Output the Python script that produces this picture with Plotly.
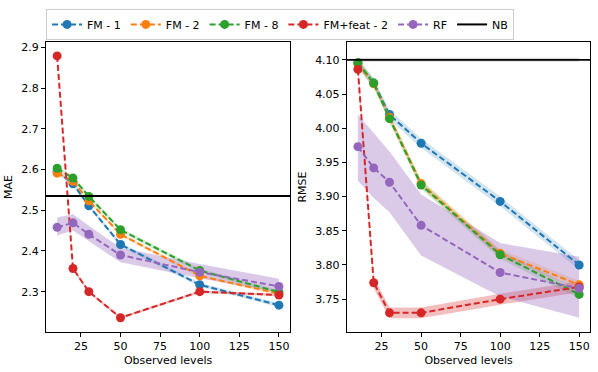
import plotly.graph_objects as go
from plotly.subplots import make_subplots

levels = [10, 20, 30, 50, 100, 150]
names = ["FM - 1", "FM - 2", "FM - 8", "FM+feat - 2", "RF"]
colors = ["#1f77b4", "#ff7f0e", "#2ca02c", "#d62728", "#9467bd"]
fills = ["rgba(31,119,180,0.2)", "rgba(255,127,14,0.2)", "rgba(44,160,44,0.2)",
         "rgba(214,39,40,0.3)", "rgba(148,103,189,0.35)"]

# MAE (left panel)
mae_fm1 = [2.595, 2.565, 2.511, 2.416, 2.317, 2.267]
mae_fm2 = [2.591, 2.571, 2.523, 2.441, 2.339, 2.295]
mae_fm8 = [2.603, 2.579, 2.534, 2.452, 2.352, 2.299]
mae_feat = [2.879, 2.357, 2.300, 2.236, 2.300, 2.292]
mae_rf = [2.458, 2.469, 2.441, 2.390, 2.348, 2.313]
mae_fm1_lo = [2.590, 2.560, 2.506, 2.411, 2.312, 2.262]
mae_fm1_hi = [2.600, 2.570, 2.516, 2.421, 2.322, 2.272]
mae_fm2_lo = [2.587, 2.567, 2.519, 2.437, 2.335, 2.291]
mae_fm2_hi = [2.595, 2.575, 2.527, 2.445, 2.343, 2.299]
mae_fm8_lo = [2.598, 2.574, 2.529, 2.447, 2.347, 2.294]
mae_fm8_hi = [2.608, 2.584, 2.539, 2.457, 2.357, 2.304]
mae_feat_lo = [2.876, 2.354, 2.297, 2.233, 2.297, 2.289]
mae_feat_hi = [2.882, 2.360, 2.303, 2.239, 2.303, 2.295]
mae_rf_lo = [2.438, 2.450, 2.423, 2.372, 2.333, 2.298]
mae_rf_hi = [2.482, 2.490, 2.462, 2.408, 2.368, 2.332]
mae_nb = 2.535

# RMSE (right panel)
rmse_fm1 = [4.095, 4.066, 4.020, 3.978, 3.893, 3.800]
rmse_fm2 = [4.094, 4.065, 4.016, 3.919, 3.817, 3.771]
rmse_fm8 = [4.096, 4.066, 4.014, 3.917, 3.815, 3.757]
rmse_feat = [4.086, 3.774, 3.730, 3.730, 3.750, 3.768]
rmse_rf = [3.973, 3.942, 3.921, 3.858, 3.789, 3.766]
rmse_fm1_lo = [4.088, 4.059, 4.013, 3.971, 3.886, 3.793]
rmse_fm1_hi = [4.102, 4.073, 4.027, 3.985, 3.900, 3.807]
rmse_fm2_lo = [4.088, 4.059, 4.010, 3.913, 3.811, 3.765]
rmse_fm2_hi = [4.100, 4.071, 4.022, 3.925, 3.823, 3.777]
rmse_fm8_lo = [4.090, 4.060, 4.008, 3.911, 3.809, 3.751]
rmse_fm8_hi = [4.102, 4.072, 4.020, 3.923, 3.821, 3.763]
rmse_feat_lo = [4.078, 3.766, 3.722, 3.722, 3.742, 3.760]
rmse_feat_hi = [4.094, 3.782, 3.738, 3.738, 3.758, 3.776]
rmse_rf_lo = [3.923, 3.898, 3.877, 3.814, 3.754, 3.723]
rmse_rf_hi = [4.020, 3.993, 3.966, 3.903, 3.832, 3.812]
rmse_nb = 4.100
rmse_nb_lo = 4.097
rmse_nb_hi = 4.103

mae = [mae_fm1, mae_fm2, mae_fm8, mae_feat, mae_rf]
mae_lo = [mae_fm1_lo, mae_fm2_lo, mae_fm8_lo, mae_feat_lo, mae_rf_lo]
mae_hi = [mae_fm1_hi, mae_fm2_hi, mae_fm8_hi, mae_feat_hi, mae_rf_hi]
rmse = [rmse_fm1, rmse_fm2, rmse_fm8, rmse_feat, rmse_rf]
rmse_lo = [rmse_fm1_lo, rmse_fm2_lo, rmse_fm8_lo, rmse_feat_lo, rmse_rf_lo]
rmse_hi = [rmse_fm1_hi, rmse_fm2_hi, rmse_fm8_hi, rmse_feat_hi, rmse_rf_hi]

fig = make_subplots(rows=1, cols=2)

for col, (vals, lows, highs) in enumerate([(mae, mae_lo, mae_hi), (rmse, rmse_lo, rmse_hi)], start=1):
    # shaded bands first
    for i in range(5):
        fig.add_trace(go.Scatter(x=levels + levels[::-1], y=highs[i] + lows[i][::-1], fill="toself",
                                 fillcolor=fills[i], line=dict(width=0), mode="lines",
                                 hoverinfo="skip", showlegend=False), row=1, col=col)
    for i in range(5):
        fig.add_trace(go.Scatter(x=levels, y=vals[i], name=names[i], mode="lines+markers",
                                 line=dict(color=colors[i], width=2, dash="6px,3px"),
                                 marker=dict(color=colors[i], size=9),
                                 showlegend=(col == 1)), row=1, col=col)

# NB band on right panel
fig.add_trace(go.Scatter(x=[levels[0], levels[-1], levels[-1], levels[0]],
                         y=[rmse_nb_hi, rmse_nb_hi, rmse_nb_lo, rmse_nb_lo], fill="toself",
                         fillcolor="rgba(0,0,0,0.15)", line=dict(width=0), mode="lines",
                         hoverinfo="skip", showlegend=False), row=1, col=2)
# NB legend entry
fig.add_trace(go.Scatter(x=[None], y=[None], mode="lines", name="NB",
                         line=dict(color="black", width=2)), row=1, col=1)
fig.add_shape(type="line", xref="x domain", x0=0, x1=1, yref="y", y0=mae_nb, y1=mae_nb,
              line=dict(color="black", width=1.8))
fig.add_shape(type="line", xref="x2 domain", x0=0, x1=1, yref="y2", y0=rmse_nb, y1=rmse_nb,
              line=dict(color="black", width=1.8))

axis_style = dict(showline=True, mirror=True, linecolor="black", linewidth=1, ticks="outside",
                  ticklen=4, tickcolor="black", showgrid=False, zeroline=False,
                  tickfont=dict(size=11, color="black"))
fig.update_xaxes(**axis_style, range=[3, 157], tickvals=[25, 50, 75, 100, 125, 150],
                 title=dict(text="Observed levels", font=dict(size=11, color="black"), standoff=4))
fig.update_xaxes(domain=[0.077, 0.485], row=1, col=1)
fig.update_xaxes(domain=[0.580, 0.987], row=1, col=2)
fig.update_yaxes(**axis_style, domain=[0.1075, 0.887])
fig.update_yaxes(range=[2.201, 2.913], tickvals=[2.3, 2.4, 2.5, 2.6, 2.7, 2.8, 2.9],
                 tickformat=".1f", title=dict(text="MAE", font=dict(size=11, color="black"), standoff=6),
                 row=1, col=1)
fig.update_yaxes(range=[3.702, 4.126], tickvals=[3.75, 3.80, 3.85, 3.90, 3.95, 4.00, 4.05, 4.10],
                 tickformat=".2f", title=dict(text="RMSE", font=dict(size=11, color="black"), standoff=6),
                 row=1, col=2)

fig.update_layout(width=598, height=372, margin=dict(l=0, r=0, t=0, b=0),
                  plot_bgcolor="white", paper_bgcolor="white",
                  font=dict(family="DejaVu Sans", size=11, color="black"),
                  legend=dict(orientation="h", x=0.077, y=0.976, xanchor="left", yanchor="top",
                              bordercolor="#cccccc", borderwidth=1, bgcolor="white",
                              font=dict(size=11), tracegroupgap=0))
fig.write_html("out.html", config={"displayModeBar": False},
               post_script="document.body.style.margin='0';")
